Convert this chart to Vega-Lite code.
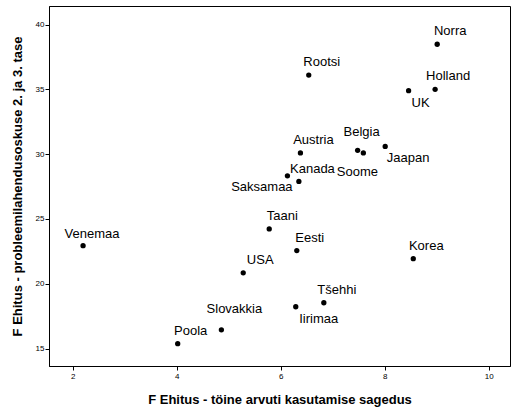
{
  "$schema": "https://vega.github.io/schema/vega-lite/v6.json",
  "width": 461,
  "height": 360,
  "autosize": "none",
  "padding": {"left": 49, "top": 6, "right": 2, "bottom": 46},
  "background": "white",
  "config": {
    "view": {"stroke": "black", "strokeWidth": 1},
    "font": "Liberation Sans",
    "axis": {
      "grid": false,
      "domainColor": "black",
      "tickColor": "black",
      "tickSize": 4,
      "labelFontSize": 8,
      "labelColor": "black",
      "labelFont": "Liberation Sans",
      "titleFont": "Liberation Sans",
      "titleFontSize": 13,
      "titleFontWeight": "bold",
      "titleColor": "black"
    }
  },
  "data": {
    "values": [
      {"land": "Norra", "x": 9.01, "y": 38.48},
      {"land": "Rootsi", "x": 6.54, "y": 36.1},
      {"land": "Holland", "x": 8.97, "y": 35.0},
      {"land": "UK", "x": 8.46, "y": 34.9},
      {"land": "Austria", "x": 6.38, "y": 30.1},
      {"land": "Belgia", "x": 7.48, "y": 30.3},
      {"land": "Soome", "x": 7.59, "y": 30.1},
      {"land": "Jaapan", "x": 8.01, "y": 30.6},
      {"land": "Kanada", "x": 6.13, "y": 28.33},
      {"land": "Saksamaa", "x": 6.35, "y": 27.9},
      {"land": "Taani", "x": 5.78, "y": 24.23},
      {"land": "Venemaa", "x": 2.2, "y": 22.94},
      {"land": "Eesti", "x": 6.31, "y": 22.56},
      {"land": "Korea", "x": 8.55, "y": 21.94},
      {"land": "USA", "x": 5.28, "y": 20.85},
      {"land": "Tšehhi", "x": 6.83, "y": 18.54},
      {"land": "Iirimaa", "x": 6.29, "y": 18.23},
      {"land": "Slovakkia", "x": 4.86, "y": 16.45},
      {"land": "Poola", "x": 4.02, "y": 15.38}
    ]
  },
  "encoding": {
    "x": {
      "field": "x", "type": "quantitative",
      "scale": {"domain": [1.545, 10.41], "nice": false, "zero": false},
      "axis": {"values": [2, 4, 6, 8, 10], "title": "F Ehitus - töine arvuti kasutamise sagedus", "titlePadding": 13, "labelPadding": 2}
    },
    "y": {
      "field": "y", "type": "quantitative",
      "scale": {"domain": [13.66, 41.43], "nice": false, "zero": false},
      "axis": {"values": [15, 20, 25, 30, 35, 40], "title": "F Ehitus - probleemilahendusoskuse 2. ja 3. tase", "titlePadding": 11, "labelPadding": 1}
    }
  },
  "layer": [
    {"mark": {"type": "circle", "size": 28, "color": "black", "opacity": 1}},
    {
      "transform": [{"filter": {"field": "land", "oneOf": ["Norra", "Rootsi", "Holland", "Austria", "Taani", "Eesti", "Korea", "Tšehhi", "Poola"]}}],
      "mark": {"type": "text", "fontSize": 13, "dx": 13, "dy": -13, "baseline": "middle", "color": "black"},
      "encoding": {"text": {"field": "land"}}
    },
    {
      "transform": [{"filter": {"field": "land", "equal": "USA"}}],
      "mark": {"type": "text", "fontSize": 13, "dx": 17, "dy": -13, "baseline": "middle", "color": "black"},
      "encoding": {"text": {"field": "land"}}
    },
    {
      "transform": [{"filter": {"field": "land", "equal": "Venemaa"}}],
      "mark": {"type": "text", "fontSize": 13, "dx": 9, "dy": -12, "baseline": "middle", "color": "black"},
      "encoding": {"text": {"field": "land"}}
    },
    {
      "transform": [{"filter": {"field": "land", "equal": "Belgia"}}],
      "mark": {"type": "text", "fontSize": 13, "dx": 4, "dy": -18, "baseline": "middle", "color": "black"},
      "encoding": {"text": {"field": "land"}}
    },
    {
      "transform": [{"filter": {"field": "land", "equal": "Slovakkia"}}],
      "mark": {"type": "text", "fontSize": 13, "dx": 13, "dy": -21, "baseline": "middle", "color": "black"},
      "encoding": {"text": {"field": "land"}}
    },
    {
      "transform": [{"filter": {"field": "land", "equal": "UK"}}],
      "mark": {"type": "text", "fontSize": 13, "dx": 12, "dy": 12, "baseline": "middle", "color": "black"},
      "encoding": {"text": {"field": "land"}}
    },
    {
      "transform": [{"filter": {"field": "land", "oneOf": ["Jaapan", "Iirimaa"]}}],
      "mark": {"type": "text", "fontSize": 13, "dx": 23, "dy": 12, "baseline": "middle", "color": "black"},
      "encoding": {"text": {"field": "land"}}
    },
    {
      "transform": [{"filter": {"field": "land", "equal": "Soome"}}],
      "mark": {"type": "text", "fontSize": 13, "dx": -6, "dy": 19, "baseline": "middle", "color": "black"},
      "encoding": {"text": {"field": "land"}}
    },
    {
      "transform": [{"filter": {"field": "land", "equal": "Kanada"}}],
      "mark": {"type": "text", "fontSize": 13, "dx": 25, "dy": -7, "baseline": "middle", "color": "black"},
      "encoding": {"text": {"field": "land"}}
    },
    {
      "transform": [{"filter": {"field": "land", "equal": "Saksamaa"}}],
      "mark": {"type": "text", "fontSize": 13, "dx": -37, "dy": 6, "baseline": "middle", "color": "black"},
      "encoding": {"text": {"field": "land"}}
    }
  ]
}
